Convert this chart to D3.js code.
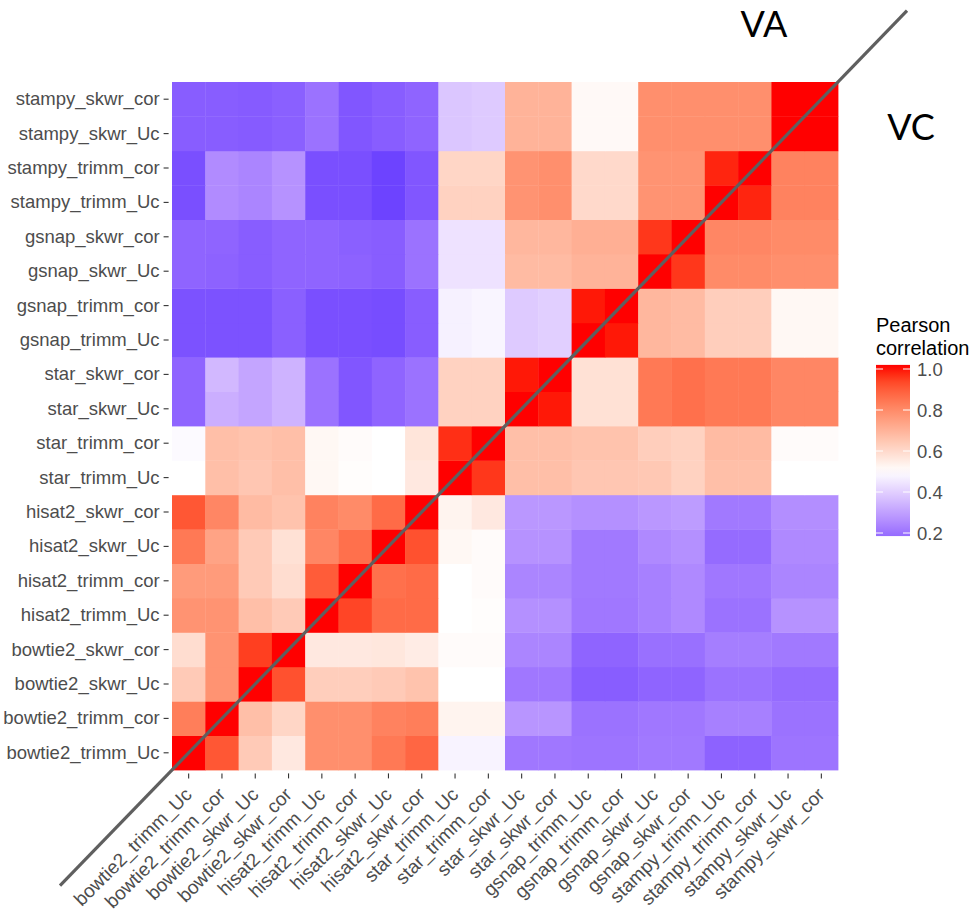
<!DOCTYPE html>
<html>
<head>
<meta charset="utf-8">
<script src="https://cdn.jsdelivr.net/npm/d3@7"></script>
<style>
  body { margin: 0; background: #fff; }
  svg { display: block; }
</style>
</head>
<body>
<svg id="chart"></svg>
<script>
// sample names, in axis order (left to right, bottom to top)
const labels = [
    'bowtie2_trimm_Uc', 'bowtie2_trimm_cor', 'bowtie2_skwr_Uc', 'bowtie2_skwr_cor',
    'hisat2_trimm_Uc', 'hisat2_trimm_cor', 'hisat2_skwr_Uc', 'hisat2_skwr_cor',
    'star_trimm_Uc', 'star_trimm_cor', 'star_skwr_Uc', 'star_skwr_cor',
    'gsnap_trimm_Uc', 'gsnap_trimm_cor', 'gsnap_skwr_Uc', 'gsnap_skwr_cor',
    'stampy_trimm_Uc', 'stampy_trimm_cor', 'stampy_skwr_Uc', 'stampy_skwr_cor'
];

// one row per label (same order as labels), one value per column
// upper-left triangle = VA, lower-right triangle = VC
const corr = [
    [1.00, 0.91, 0.64, 0.56, 0.79, 0.79, 0.84, 0.88, 0.475, 0.475, 0.21, 0.21, 0.205, 0.205, 0.215, 0.215, 0.165, 0.165, 0.205, 0.205],
    [0.83, 1.00, 0.67, 0.61, 0.79, 0.79, 0.82, 0.83, 0.53, 0.53, 0.275, 0.275, 0.20, 0.20, 0.21, 0.21, 0.23, 0.23, 0.20, 0.20],
    [0.64, 0.78, 1.00, 0.92, 0.63, 0.63, 0.64, 0.66, 0.50, 0.50, 0.21, 0.21, 0.155, 0.155, 0.17, 0.17, 0.20, 0.20, 0.185, 0.185],
    [0.59, 0.78, 0.95, 1.00, 0.56, 0.56, 0.565, 0.55, 0.51, 0.51, 0.24, 0.24, 0.17, 0.17, 0.195, 0.195, 0.225, 0.225, 0.215, 0.215],
    [0.78, 0.78, 0.67, 0.64, 1.00, 0.94, 0.87, 0.87, 0.50, 0.505, 0.265, 0.265, 0.21, 0.21, 0.23, 0.25, 0.20, 0.20, 0.27, 0.27],
    [0.76, 0.76, 0.64, 0.59, 0.90, 1.00, 0.86, 0.87, 0.50, 0.51, 0.24, 0.24, 0.215, 0.215, 0.23, 0.25, 0.21, 0.21, 0.24, 0.24],
    [0.84, 0.74, 0.64, 0.58, 0.81, 0.86, 1.00, 0.92, 0.52, 0.51, 0.27, 0.27, 0.215, 0.215, 0.25, 0.265, 0.185, 0.185, 0.25, 0.25],
    [0.91, 0.81, 0.68, 0.66, 0.82, 0.80, 0.87, 1.00, 0.53, 0.56, 0.28, 0.28, 0.265, 0.265, 0.28, 0.29, 0.215, 0.215, 0.26, 0.26],
    [0.50, 0.67, 0.65, 0.67, 0.52, 0.505, 0.50, 0.56, 1.00, 0.96, 0.67, 0.67, 0.65, 0.65, 0.645, 0.62, 0.67, 0.67, 0.50, 0.50],
    [0.49, 0.67, 0.66, 0.67, 0.52, 0.51, 0.50, 0.57, 0.97, 1.00, 0.67, 0.67, 0.66, 0.66, 0.63, 0.62, 0.68, 0.68, 0.51, 0.51],
    [0.17, 0.33, 0.31, 0.34, 0.20, 0.14, 0.17, 0.20, 0.62, 0.62, 1.00, 0.99, 0.58, 0.58, 0.84, 0.86, 0.84, 0.84, 0.81, 0.81],
    [0.17, 0.35, 0.31, 0.34, 0.20, 0.14, 0.17, 0.20, 0.62, 0.62, 0.99, 1.00, 0.58, 0.58, 0.84, 0.86, 0.84, 0.84, 0.81, 0.81],
    [0.13, 0.13, 0.13, 0.16, 0.125, 0.125, 0.12, 0.155, 0.47, 0.48, 0.39, 0.40, 1.00, 0.99, 0.69, 0.68, 0.63, 0.63, 0.52, 0.52],
    [0.13, 0.13, 0.13, 0.16, 0.125, 0.125, 0.12, 0.155, 0.47, 0.48, 0.39, 0.40, 0.99, 1.00, 0.69, 0.68, 0.63, 0.63, 0.52, 0.52],
    [0.17, 0.165, 0.155, 0.17, 0.17, 0.165, 0.155, 0.20, 0.44, 0.44, 0.68, 0.68, 0.70, 0.70, 1.00, 0.96, 0.80, 0.80, 0.79, 0.79],
    [0.17, 0.17, 0.155, 0.17, 0.17, 0.16, 0.155, 0.20, 0.44, 0.44, 0.69, 0.69, 0.71, 0.71, 0.96, 1.00, 0.81, 0.81, 0.80, 0.80],
    [0.125, 0.255, 0.24, 0.27, 0.125, 0.125, 0.10, 0.14, 0.62, 0.62, 0.78, 0.79, 0.60, 0.60, 0.78, 0.78, 1.00, 0.98, 0.82, 0.82],
    [0.125, 0.255, 0.24, 0.27, 0.125, 0.125, 0.10, 0.14, 0.61, 0.61, 0.78, 0.79, 0.60, 0.60, 0.78, 0.78, 0.98, 1.00, 0.82, 0.82],
    [0.155, 0.155, 0.15, 0.16, 0.20, 0.14, 0.155, 0.17, 0.38, 0.39, 0.70, 0.70, 0.515, 0.515, 0.79, 0.79, 0.79, 0.79, 1.00, 1.00],
    [0.155, 0.155, 0.15, 0.16, 0.20, 0.14, 0.155, 0.17, 0.38, 0.39, 0.70, 0.70, 0.515, 0.515, 0.79, 0.79, 0.79, 0.79, 1.00, 1.00]
];

const legendTicks = [0.2, 0.4, 0.6, 0.8, 1.0];
const legendTitle = ['Pearson', 'correlation'];
const groupNames = ['VA', 'VC'];

const width = 974, height = 915;
const grid = {left: 172, right: 838, top: 82, bottom: 770};
const labelFont = '"Liberation Sans", Arial, sans-serif';

const svg = d3.select('#chart')
    .attr('width', width)
    .attr('height', height);

const x = d3.scaleBand()
    .domain(labels)
    .range([grid.left, grid.right]);

const y = d3.scaleBand()
    .domain(labels)
    .range([grid.bottom, grid.top]);

const color = d3.scaleLinear()
    .domain([0, 0.5, 1])
    .range(['#0000ff', '#ffffff', '#ff0000'])
    .interpolate(d3.interpolateLab);

// flatten to cells
const cells = [];
corr.forEach((row, i) => {
    row.forEach((v, j) => {
        cells.push({row: labels[i], col: labels[j], value: v});
    });
});

svg.append('g')
    .selectAll('rect')
    .data(cells)
    .join('rect')
    .attr('x', d => x(d.col))
    .attr('y', d => y(d.row))
    .attr('width', x.bandwidth() + 0.4)
    .attr('height', y.bandwidth() + 0.4)
    .attr('fill', d => color(d.value));

// axes (ggplot-ish: no axis line, ticks slightly off the tiles)
const pad = 3.4;
const yAxis = svg.append('g')
    .attr('transform', `translate(${grid.left - pad},0)`)
    .call(d3.axisLeft(y).tickSize(5).tickPadding(4));
const xAxis = svg.append('g')
    .attr('transform', `translate(0,${grid.bottom + pad})`)
    .call(d3.axisBottom(x).tickSize(5).tickPadding(3));

[xAxis, yAxis].forEach(ax => {
    ax.select('.domain').remove();
    ax.selectAll('.tick line').attr('stroke', '#333333').attr('stroke-width', 1.1);
    ax.selectAll('.tick text')
        .style('font-family', labelFont)
        .style('font-size', '18.5px')
        .attr('fill', '#4d4d4d');
});

xAxis.selectAll('.tick text')
    .style('font-size', '19px')
    .attr('text-anchor', 'end')
    .attr('y', 0)
    .attr('dy', '0.7em')
    .attr('transform', 'translate(-5,13) rotate(-45)');

// diagonal split line
const ext = 112;
const slope = (grid.bottom - grid.top) / (grid.right - grid.left);
svg.append('line')
    .attr('x1', grid.left - ext)
    .attr('y1', grid.bottom + ext * slope)
    .attr('x2', grid.right + 69)
    .attr('y2', grid.top - 69 * slope)
    .attr('stroke', '#5f5f5f')
    .attr('stroke-width', 3.2);

// group labels
svg.append('text')
    .attr('x', 764)
    .attr('y', 37)
    .attr('text-anchor', 'middle')
    .style('font-family', 'Lato, "Open Sans", sans-serif')
    .style('font-size', '36px')
    .text(groupNames[0]);
svg.append('text')
    .attr('x', 911)
    .attr('y', 140)
    .attr('text-anchor', 'middle')
    .style('font-family', 'Lato, "Open Sans", sans-serif')
    .style('font-size', '36px')
    .text(groupNames[1]);

// colour bar legend
const lg = {x: 876, w: 34};
const ly = d3.scaleLinear().domain([0.2, 1.0]).range([533, 369]);
const barLo = 0.185, barHi = 1.02;

const grad = svg.append('defs').append('linearGradient')
    .attr('id', 'cbar')
    .attr('x1', 0).attr('y1', 1).attr('x2', 0).attr('y2', 0);
d3.range(0, 1.0001, 0.05).forEach(t => {
    const v = barLo + t * (barHi - barLo);
    grad.append('stop')
        .attr('offset', t)
        .attr('stop-color', color(Math.min(v, 1)));
});

svg.append('rect')
    .attr('x', lg.x)
    .attr('y', ly(barHi))
    .attr('width', lg.w)
    .attr('height', ly(barLo) - ly(barHi))
    .attr('fill', 'url(#cbar)');

const lticks = svg.append('g');
lticks.selectAll('line.l')
    .data(legendTicks)
    .join('line')
    .attr('class', 'l')
    .attr('x1', lg.x).attr('x2', lg.x + 7)
    .attr('y1', d => ly(d)).attr('y2', d => ly(d))
    .attr('stroke', 'white').attr('stroke-width', 1);
lticks.selectAll('line.r')
    .data(legendTicks)
    .join('line')
    .attr('class', 'r')
    .attr('x1', lg.x + lg.w - 7).attr('x2', lg.x + lg.w)
    .attr('y1', d => ly(d)).attr('y2', d => ly(d))
    .attr('stroke', 'white').attr('stroke-width', 1);

lticks.selectAll('text')
    .data(legendTicks)
    .join('text')
    .attr('x', lg.x + lg.w + 7)
    .attr('y', d => ly(d))
    .attr('dy', '0.36em')
    .style('font-family', labelFont)
    .style('font-size', '18.5px')
    .attr('fill', '#4d4d4d')
    .text(d => d.toFixed(1));

svg.append('text')
    .attr('x', lg.x)
    .attr('y', 332)
    .style('font-family', labelFont)
    .style('font-size', '20px')
    .selectAll('tspan')
    .data(legendTitle)
    .join('tspan')
    .attr('x', lg.x)
    .attr('dy', (d, i) => i === 0 ? 0 : 23)
    .text(d => d);
</script>
</body>
</html>
